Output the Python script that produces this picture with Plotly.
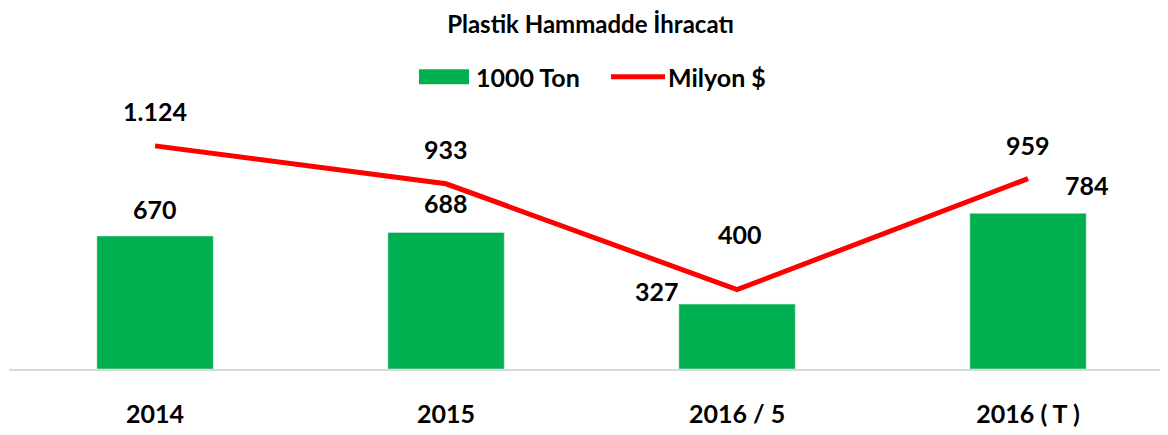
import plotly.graph_objects as go

categories = ["2014", "2015", "2016 / 5", "2016 ( T )"]
ton_values = [670, 688, 327, 784]
usd_values = [1124, 933, 400, 959]
ton_name = "1000 Ton"
usd_name = "Milyon $"
title_text = "Plastik Hammadde İhracatı"

GREEN = "#00b050"
RED = "#ff0000"
FONT = "Lato"

# figure geometry (page body has an 8px margin)
W, H = 1160, 427
L, R, T, B = 1, 0, 92, 66
PW, PH = W - L - R, H - T - B


def fmt(v):
    return f"{v:,}".replace(",", ".")


def px(fx):
    return (fx - L) / PW


def py(fy):
    return (H - B - fy) / PH


fig = go.Figure()
fig.add_trace(go.Bar(x=categories, y=ton_values, marker_color=GREEN,
                     name=ton_name, showlegend=False, width=0.4))
fig.add_trace(go.Scatter(x=categories, y=usd_values, mode="lines",
                         line=dict(color=RED, width=5), name=usd_name,
                         showlegend=False))

# label offsets (style only)
bar_shift = [(0, 27), (0, 29), (-80, 13), (59, 28)]
line_shift = [(0, 35), (0, 35), (3, 56), (0, 34)]

lab_font = dict(family=FONT, size=25, color="black", weight="bold")
annotations = []
for i, (v, (dx, dy)) in enumerate(zip(ton_values, bar_shift)):
    annotations.append(dict(x=i, y=v, text=fmt(v), showarrow=False,
                            xshift=dx, yshift=dy, font=lab_font))
for i, (v, (dx, dy)) in enumerate(zip(usd_values, line_shift)):
    annotations.append(dict(x=i, y=v, text=fmt(v), showarrow=False,
                            xshift=dx, yshift=dy, font=lab_font))

# manual legend
leg_font = dict(family=FONT, size=25, color="black", weight="bold")
annotations.append(dict(xref="paper", yref="paper", x=px(466), y=py(69),
                        xanchor="left", yanchor="middle", text=ton_name,
                        showarrow=False, font=leg_font))
annotations.append(dict(xref="paper", yref="paper", x=px(658), y=py(69),
                        xanchor="left", yanchor="middle", text=usd_name,
                        showarrow=False, font=leg_font))
shapes = [
    dict(type="rect", xref="paper", yref="paper", x0=px(411), x1=px(461),
         y0=py(76.3), y1=py(61.3), fillcolor=GREEN, line=dict(width=0)),
    dict(type="line", xref="paper", yref="paper", x0=px(603), x1=px(657),
         y0=py(68.7), y1=py(68.7), line=dict(color=RED, width=5)),
]

fig.update_layout(
    width=W, height=H,
    margin=dict(l=L, r=R, t=T, b=B, autoexpand=False),
    paper_bgcolor="white", plot_bgcolor="white",
    font=dict(family=FONT, color="black"),
    title=dict(text="<b>" + title_text + "</b>", x=582.5 / W, xanchor="center",
               y=1 - 17 / H, yanchor="middle", yref="container",
               font=dict(family=FONT, size=24, color="black")),
    annotations=annotations,
    shapes=shapes,
    showlegend=False,
)
fig.update_xaxes(type="category", range=[-0.502, 3.481], showline=True,
                 linecolor="#d9d9d9", linewidth=2, showgrid=False, ticks="",
                 ticklabelstandoff=22, automargin=False,
                 tickfont=dict(family=FONT, size=25, color="black", weight="bold"))
fig.update_yaxes(range=[0, 1355], visible=False, showgrid=False, zeroline=False)

fig.write_html("out.html")
